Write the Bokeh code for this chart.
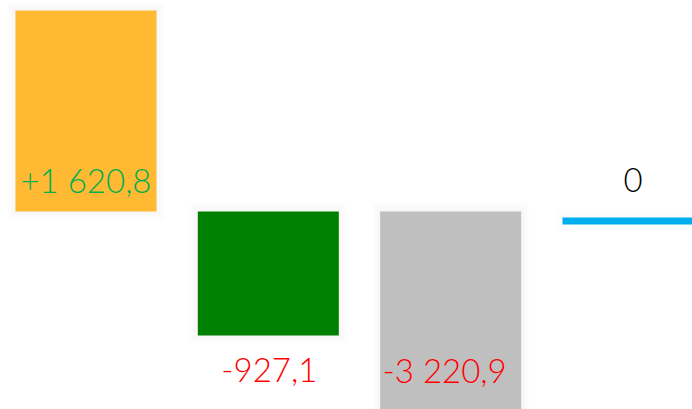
from bokeh.plotting import figure
from bokeh.models import Range1d, ColumnDataSource
from bokeh.core.properties import value
from bokeh.embed import file_html
from bokeh.resources import INLINE

# ---- data ----
categories = ["A", "B", "C", "D"]
values = [1620.8, -927.1, -3220.9, 0.0]
labels = ["+1 620,8", "-927,1", "-3 220,9", "0"]
bar_top = [1697.5, 76.6, 76.6]
bar_bottom = [76.6, -923.3, -3144.3]
bar_colors = ["#FFB933", "#008000", "#BFBFBF"]
label_colors = ["#00B050", "#FF0000", "#FF0000", "#000000"]

W, H = 692, 409
x_lo, x_hi = -0.4689, 3.3264
y_lo, y_hi = -1520.0, 1778.1
px_x = W / (x_hi - x_lo)
px_y = H / (y_hi - y_lo)
bw = 141 / px_x

p = figure(width=W, height=H, output_backend="svg", toolbar_location=None,
           x_range=Range1d(x_lo, x_hi), y_range=Range1d(y_lo, y_hi),
           min_border=0, outline_line_color=None)
p.axis.visible = False
p.grid.visible = False
p.background_fill_color = "white"
p.border_fill_color = "white"

xs = list(range(len(bar_top)))

# soft shadows
for s in [8, 6, 4, 2]:
    p.vbar(x=xs, width=bw + 2 * s / px_x,
           top=[t + s / px_y for t in bar_top],
           bottom=[b - s / px_y for b in bar_bottom],
           fill_color="black", fill_alpha=0.007, line_color=None)
    p.rect(x=[3], y=[0 + 2 / px_y], width=bw + 2 * s / px_x, height=7 + 2 * s,
           height_units="screen", fill_color="black", fill_alpha=0.005, line_color=None)

p.vbar(x=xs, width=bw, top=bar_top, bottom=bar_bottom,
       fill_color=bar_colors, line_color=None)

# zero line
p.rect(x=[3], y=[0], width=bw, height=7, height_units="screen",
       fill_color="#00AEEF", line_color=None)

src = ColumnDataSource(dict(
    x=list(range(len(categories))),
    y=[0.0] * len(categories),
    text=labels,
    color=label_colors,
    yoff=[-41.5 if v >= 0 else 148.5 for v in values],
    xoff=[0, 1, -6, 0],
))
p.text(x="x", y="y", text="text", source=src, text_color="color",
       y_offset="yoff", x_offset="xoff",
       text_align="center", text_baseline="alphabetic",
       text_font=value("Lato Light"), text_font_size="33px")

open("out.html", "w").write(file_html(p, INLINE))
